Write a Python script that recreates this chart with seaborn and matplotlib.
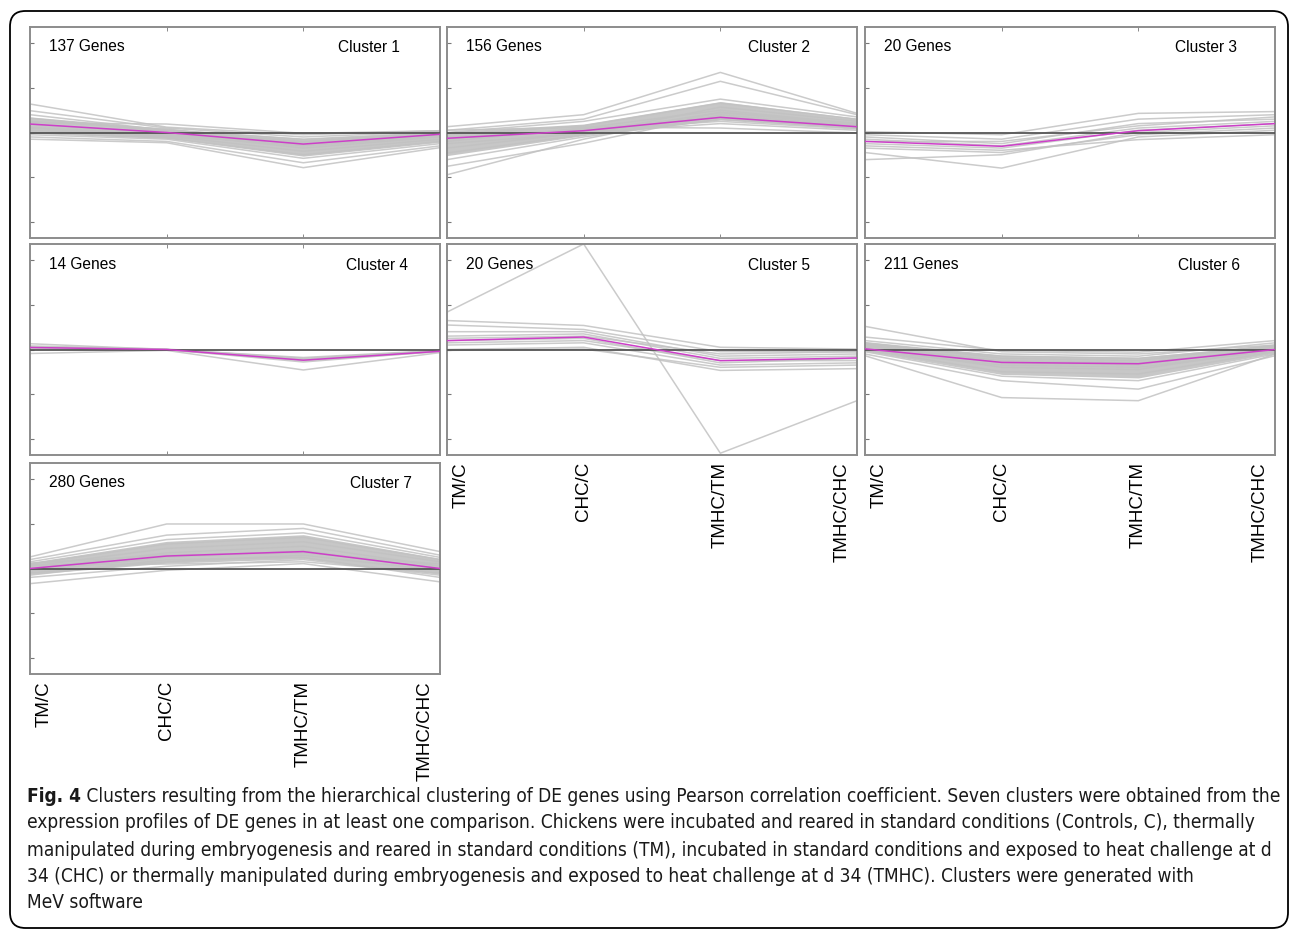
import matplotlib
matplotlib.use("Agg")
import matplotlib.pyplot as plt
import matplotlib.transforms as mtransforms
from matplotlib import font_manager
from matplotlib.patches import FancyBboxPatch
import pandas as pd
import seaborn as sns

# comparisons on the x axis
comparisons = ["TM/C", "CHC/C", "TMHC/TM", "TMHC/CHC"]

gene_counts = [137, 156, 20, 14, 20, 211, 280]

# centroid (mean) profile of each cluster
c1_mean = [0.19, 0.00, -0.26, -0.04]
c2_mean = [-0.13, 0.04, 0.34, 0.13]
c3_mean = [-0.20, -0.31, 0.04, 0.20]
c4_mean = [0.045, 0.00, -0.24, -0.04]
c5_mean = [0.20, 0.28, -0.25, -0.19]
c6_mean = [0.015, -0.29, -0.32, 0.00]
c7_mean = [0.00, 0.28, 0.38, 0.00]

# representative gene profiles (envelope + visible outliers)
c1_genes = [
    [0.64, 0.12, -0.05, 0.04], [0.49, 0.10, -0.10, 0.02], [0.40, 0.05, -0.15, 0.00],
    [0.32, 0.02, -0.20, -0.02], [0.25, 0.08, -0.28, -0.06], [0.18, -0.02, -0.35, -0.10],
    [0.12, -0.05, -0.30, -0.08], [0.05, -0.08, -0.42, -0.15], [0.00, -0.12, -0.50, -0.20],
    [-0.05, -0.15, -0.58, -0.25], [-0.10, -0.20, -0.68, -0.30], [-0.15, -0.23, -0.79, -0.34],
    [0.22, 0.19, -0.02, 0.04], [0.10, -0.10, -0.22, 0.00],
]
c2_genes = [
    [0.13, 0.40, 1.35, 0.43], [0.05, 0.30, 1.15, 0.40], [0.00, 0.25, 0.75, 0.35],
    [-0.05, 0.15, 0.66, 0.30], [-0.95, -0.15, 0.45, 0.20], [-0.76, -0.24, 0.40, 0.15],
    [-0.61, -0.10, 0.30, 0.10], [-0.46, -0.05, 0.57, 0.25], [-0.35, 0.00, 0.20, 0.05],
    [-0.20, 0.10, 0.50, 0.20], [-0.10, 0.05, 0.25, 0.08], [0.05, 0.12, 0.10, -0.01],
    [-0.25, -0.02, 0.45, 0.18], [-0.15, 0.08, 0.35, 0.12],
]
c3_genes = [
    [0.02, -0.05, 0.43, 0.47], [-0.05, -0.15, 0.30, 0.40], [-0.10, -0.25, 0.20, 0.30],
    [-0.61, -0.50, 0.00, 0.15], [-0.45, -0.80, -0.10, 0.05], [-0.30, -0.40, -0.16, -0.05],
    [-0.15, -0.30, 0.10, 0.25], [-0.25, -0.35, 0.05, 0.20], [-0.20, -0.20, 0.15, 0.35],
    [-0.35, -0.45, -0.05, 0.10],
]
c4_genes = [
    [0.13, 0.00, -0.18, -0.02], [0.08, 0.01, -0.20, -0.03], [0.05, -0.01, -0.25, -0.05],
    [0.02, 0.00, -0.28, -0.04], [-0.09, -0.02, -0.46, -0.07], [0.06, 0.00, -0.22, -0.03],
]
c5_genes = [
    [0.84, 2.37, -2.33, -1.15], [0.65, 0.54, 0.05, 0.01], [0.55, 0.45, -0.05, -0.05],
    [0.40, 0.40, -0.15, -0.10], [0.30, 0.35, -0.20, -0.15], [0.20, 0.25, -0.30, -0.20],
    [0.10, 0.15, -0.35, -0.30], [0.00, 0.05, -0.47, -0.43], [-0.02, 0.01, -0.40, -0.35],
    [0.15, 0.20, -0.25, -0.25], [0.25, 0.30, -0.10, -0.05],
]
c6_genes = [
    [0.52, -0.05, -0.10, 0.10], [0.28, -0.02, -0.06, 0.20], [0.20, -0.10, -0.15, 0.15],
    [0.15, -0.20, -0.25, 0.10], [0.10, -0.30, -0.35, 0.05], [0.05, -0.40, -0.45, 0.02],
    [0.00, -0.50, -0.55, -0.05], [-0.05, -0.60, -0.70, -0.10], [-0.10, -0.70, -0.89, -0.14],
    [-0.14, -1.08, -1.15, -0.10], [0.08, -0.25, -0.30, 0.00], [-0.02, -0.35, -0.40, -0.03],
    [0.12, -0.15, -0.20, 0.08],
]
c7_genes = [
    [0.26, 1.00, 1.00, 0.38], [0.20, 0.75, 0.90, 0.30], [0.15, 0.65, 0.80, 0.25],
    [0.10, 0.55, 0.70, 0.20], [0.05, 0.45, 0.60, 0.15], [0.00, 0.35, 0.50, 0.05],
    [-0.05, 0.25, 0.40, 0.00], [-0.10, 0.15, 0.30, -0.05], [-0.20, 0.05, 0.20, -0.15],
    [-0.34, -0.04, 0.11, -0.30], [0.12, 0.30, 0.35, 0.10], [-0.15, 0.20, 0.25, -0.20],
    [0.08, 0.10, 0.15, -0.10],
]

means = [c1_mean, c2_mean, c3_mean, c4_mean, c5_mean, c6_mean, c7_mean]
genes = [c1_genes, c2_genes, c3_genes, c4_genes, c5_genes, c6_genes, c7_genes]

caption_bold = "Fig. 4"
caption_lines = [
    " Clusters resulting from the hierarchical clustering of DE genes using Pearson correlation coefficient. Seven clusters were obtained from the",
    "expression profiles of DE genes in at least one comparison. Chickens were incubated and reared in standard conditions (Controls, C), thermally",
    "manipulated during embryogenesis and reared in standard conditions (TM), incubated in standard conditions and exposed to heat challenge at d",
    "34 (CHC) or thermally manipulated during embryogenesis and exposed to heat challenge at d 34 (TMHC). Clusters were generated with",
    "MeV software",
]

sns.set_style("white")
plt.rcParams["font.family"] = ["Liberation Sans", "DejaVu Sans"]
plt.rcParams["text.color"] = "black"
plt.rcParams["xtick.color"] = "black"

W, H = 1290, 931
fig = plt.figure(figsize=(W / 100, H / 100), dpi=100)

# outer rounded frame
frame = FancyBboxPatch((10 / W, 3 / H), 1278 / W, 917 / H,
                       boxstyle="round,pad=0,rounding_size=0.012",
                       transform=fig.transFigure, fill=False,
                       edgecolor="black", linewidth=1.3, mutation_aspect=W / H)
fig.patches.append(frame)

# panel grid in pixels
col_left = [30, 447, 865]
row_top = [27, 244, 463]
pw, ph = 410, 211
cells = [(0, 0), (0, 1), (0, 2), (1, 0), (1, 1), (1, 2), (2, 0)]
label_panels = {4, 5, 6}
right_pad = [40, 47, 38, 32, 47, 35, 28]  # distance of "Cluster n" from right edge

for i, (r, c) in enumerate(cells):
    left = col_left[c] / W
    bottom = 1 - (row_top[r] + ph) / H
    ax = fig.add_axes([left, bottom, pw / W, ph / H])

    rows = []
    for g, prof in enumerate(genes[i]):
        for k, v in enumerate(prof):
            rows.append({"gene": g, "x": k, "value": v})
    df = pd.DataFrame(rows)
    if gene_counts[i] > 100:
        # dense body of the cluster: percentile band of the profiles
        sns.lineplot(data=df, x="x", y="value", estimator="median",
                     errorbar=("pi", 60), color="#b0b0b0", linewidth=0,
                     err_kws={"alpha": 0.7, "linewidth": 0}, ax=ax, legend=False)
    sns.lineplot(data=df, x="x", y="value", units="gene", estimator=None,
                 color="#c2c2c2", linewidth=1.1, alpha=0.85, ax=ax, legend=False)
    ax.axhline(0, color="#555555", linewidth=1.3, zorder=3)
    mdf = pd.DataFrame({"x": range(4), "value": means[i]})
    sns.lineplot(data=mdf, x="x", y="value", color="#cc3fc8", linewidth=1.1,
                 ax=ax, legend=False, zorder=4)

    ax.set_xlim(0, 3)
    ax.set_ylim(-2.37, 2.37)
    ax.set_xlabel("")
    ax.set_ylabel("")
    ax.set_yticks([-2, -1, 0, 1, 2])
    ax.set_yticklabels([])
    ax.tick_params(axis="y", direction="in", length=3, color="#777777", left=True)
    ax.set_xticks([1, 2], minor=True)
    ax.tick_params(axis="x", which="minor", direction="in", length=3,
                   color="#777777", top=True, bottom=True)
    if i in label_panels:
        ax.set_xticks(range(4))
        ax.set_xticklabels(comparisons, rotation=90, va="top", ha="center",
                           fontsize=13.5, color="black")
        ax.tick_params(axis="x", which="major", length=0, pad=5)
        labs = ax.get_xticklabels()
        labs[0].set_transform(labs[0].get_transform() +
                              mtransforms.ScaledTranslation(0.14, 0, fig.dpi_scale_trans))
        labs[3].set_transform(labs[3].get_transform() +
                              mtransforms.ScaledTranslation(-0.15, 0, fig.dpi_scale_trans))
    else:
        ax.set_xticks([])

    for s in ax.spines.values():
        s.set_color("#8c8c8c")
        s.set_linewidth(1.4)

    ax.text(19 / pw, 1 - 20 / ph, f"{gene_counts[i]} Genes", transform=ax.transAxes,
            fontsize=11.2, ha="left", va="center", color="black")
    ax.text(1 - right_pad[i] / pw, 1 - 21 / ph, f"Cluster {i + 1}", transform=ax.transAxes,
            fontsize=11.2, ha="right", va="center", color="black")


# caption: prefer a narrow face (regular + bold), else fit DejaVu to the line width
def find_narrow(bold):
    for f in font_manager.fontManager.ttflist:
        fn = f.fname.lower()
        if not ("narrow" in fn or "condensed" in fn):
            continue
        if "oblique" in fn or "italic" in fn or f.style != "normal":
            continue
        is_bold = "bold" in fn
        if is_bold == bold:
            return font_manager.FontProperties(fname=f.fname)
    return None


cap_prop = find_narrow(False)
bold_prop = find_narrow(True)
if cap_prop is None:
    cap_prop = font_manager.FontProperties(family="DejaVu Sans")
if bold_prop is None:
    bold_prop = cap_prop.copy()
    bold_prop.set_weight("bold")

cap_y = [796, 823, 850, 876, 902]
size = 13.0
t0 = fig.text(27 / W, 1 - cap_y[0] / H, caption_bold, va="center", ha="left",
              fontproperties=bold_prop, fontsize=size, color="#1a1a1a")
t1 = fig.text(0, 1 - cap_y[0] / H, caption_lines[0], va="center", ha="left",
              fontproperties=cap_prop, fontsize=size, color="#1a1a1a")
fig.canvas.draw()
renderer = fig.canvas.get_renderer()
w_total = t0.get_window_extent(renderer).width + t1.get_window_extent(renderer).width
size = size * (1276 - 27) / w_total
t0.set_fontsize(size)
t1.set_fontsize(size)
fig.canvas.draw()
x1 = t0.get_window_extent(renderer).x1
t1.set_x(x1 / W)
for j in range(1, len(caption_lines)):
    fig.text(27 / W, 1 - cap_y[j] / H, caption_lines[j], va="center", ha="left",
             fontproperties=cap_prop, fontsize=size, color="#1a1a1a")

fig.savefig("out.png", dpi=100)
